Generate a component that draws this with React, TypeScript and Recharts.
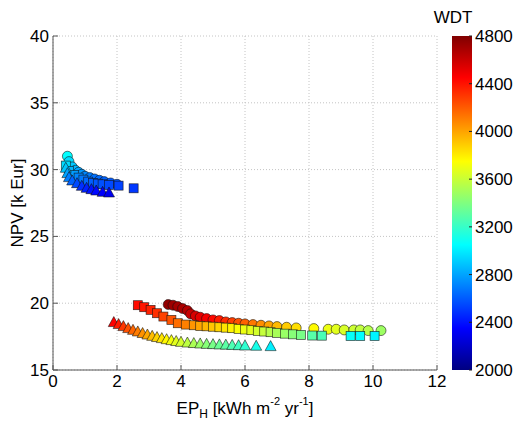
import React from 'react';
import { Bar, CartesianGrid, ComposedChart, Scatter, ScatterChart, XAxis, YAxis } from 'recharts';

// each row: [EP_H, NPV, WDT]
const circlesHigh: number[][] = [
  [0.45, 31.0, 3050], [0.5, 30.6, 2950], [0.6, 30.2, 2900], [0.7, 29.95, 2850], [0.8, 29.8, 2800],
  [0.9, 29.65, 2760], [1.0, 29.5, 2720], [1.15, 29.4, 2690], [1.3, 29.3, 2660], [1.45, 29.2, 2640],
  [1.6, 29.1, 2620], [1.8, 29.0, 2600], [2.0, 28.9, 2580],
];
const circlesLow: number[][] = [
  [3.6, 19.9, 4750], [3.75, 19.85, 4720], [3.9, 19.75, 4700], [4.05, 19.6, 4680], [4.2, 19.45, 4650],
  [4.3, 19.2, 4600], [4.45, 19.05, 4560], [4.6, 18.95, 4520], [4.8, 18.85, 4480], [5.0, 18.75, 4430],
  [5.2, 18.7, 4380], [5.4, 18.6, 4330], [5.6, 18.55, 4280], [5.8, 18.5, 4230], [6.0, 18.45, 4180],
  [6.25, 18.4, 4120], [6.5, 18.35, 4060], [6.75, 18.3, 4000], [7.0, 18.25, 3940], [7.3, 18.2, 3890],
  [7.6, 18.15, 3840], [8.15, 18.1, 3760], [8.6, 18.05, 3700], [8.85, 18.05, 3670], [9.1, 18.0, 3640],
  [9.4, 18.0, 3610], [9.6, 18.0, 3580], [9.85, 17.95, 3550], [10.25, 17.95, 3480],
];
const squaresHigh: number[][] = [
  [0.4, 30.3, 2950], [0.5, 29.9, 2850], [0.65, 29.6, 2780], [0.8, 29.4, 2720], [0.95, 29.25, 2680],
  [1.1, 29.1, 2640], [1.25, 29.0, 2610], [1.4, 28.95, 2590], [1.55, 28.9, 2570], [1.75, 28.85, 2550],
  [2.05, 28.8, 2530], [2.52, 28.6, 2500],
];
const squaresLow: number[][] = [
  [2.65, 19.85, 4420], [2.85, 19.7, 4390], [3.05, 19.5, 4360], [3.25, 19.25, 4320], [3.45, 19.0, 4270],
  [3.7, 18.75, 4220], [3.9, 18.5, 4150], [4.15, 18.4, 4100], [4.4, 18.35, 4040], [4.6, 18.3, 4000],
  [4.8, 18.27, 3950], [5.0, 18.24, 3910], [5.2, 18.2, 3870], [5.4, 18.17, 3820], [5.6, 18.13, 3780],
  [5.8, 18.08, 3740], [6.0, 18.03, 3700], [6.2, 17.98, 3670], [6.4, 17.93, 3630], [6.6, 17.88, 3590],
  [6.8, 17.83, 3550], [7.0, 17.78, 3510], [7.25, 17.72, 3470], [7.5, 17.67, 3420], [7.75, 17.63, 3380],
  [8.1, 17.58, 3290], [8.4, 17.57, 3250], [9.3, 17.55, 3070], [9.6, 17.55, 3050], [10.05, 17.55, 3020],
];
const trianglesHigh: number[][] = [
  [0.4, 30.1, 2900], [0.45, 29.7, 2800], [0.5, 29.4, 2700], [0.6, 29.15, 2620], [0.75, 28.95, 2550],
  [0.9, 28.75, 2480], [1.05, 28.6, 2440], [1.2, 28.5, 2400], [1.35, 28.4, 2370], [1.55, 28.3, 2340],
  [1.75, 28.25, 2310],
];
const trianglesLow: number[][] = [
  [1.9, 18.55, 4450], [2.05, 18.4, 4380], [2.2, 18.25, 4300], [2.35, 18.1, 4230], [2.5, 17.97, 4170],
  [2.65, 17.85, 4110], [2.8, 17.73, 4050], [2.95, 17.62, 3990], [3.1, 17.52, 3930], [3.25, 17.43, 3870],
  [3.4, 17.35, 3820], [3.55, 17.27, 3770], [3.7, 17.2, 3720], [3.85, 17.13, 3670], [4.0, 17.07, 3630],
  [4.2, 17.02, 3570], [4.4, 16.98, 3520], [4.6, 16.95, 3470], [4.8, 16.92, 3420], [5.0, 16.9, 3380],
  [5.2, 16.88, 3340], [5.4, 16.86, 3300], [5.6, 16.84, 3260], [5.8, 16.82, 3220], [6.0, 16.8, 3180],
  [6.35, 16.78, 3110], [6.8, 16.75, 3010],
];

const xTicks = [0, 2, 4, 6, 8, 10, 12];
const yTicks = [15, 20, 25, 30, 35, 40];
const wdtTicks = [2000, 2400, 2800, 3200, 3600, 4000, 4400, 4800];
const wdtMin = 2000;
const wdtMax = 4800;

const font = '"Liberation Sans", Arial, sans-serif';
const axisColor = '#555';

// matlab jet colormap
function jetAt(t: number) {
  const c = (v: number) => Math.round(255 * Math.max(0, Math.min(1, v)));
  const r = c(Math.min(4 * t - 1.5, -4 * t + 4.5));
  const g = c(Math.min(4 * t - 0.5, -4 * t + 3.5));
  const b = c(Math.min(4 * t + 0.5, -4 * t + 2.5));
  return `rgb(${r},${g},${b})`;
}
const wdtColor = (w: number) => jetAt((w - wdtMin) / (wdtMax - wdtMin));

const toPoints = (rows: number[][]) => rows.map(([ep, npv, wdt]) => ({ ep, npv, wdt }));
const circles = toPoints([...circlesHigh, ...circlesLow]);
const squares = toPoints([...squaresHigh, ...squaresLow]);
const triangles = toPoints([...trianglesHigh, ...trianglesLow]);

const edge = { stroke: '#111', strokeWidth: 0.7, strokeOpacity: 0.8 };

const CircleMark = (p: any) => <circle cx={p.cx} cy={p.cy} r={5} fill={wdtColor(p.payload.wdt)} {...edge} />;
const SquareMark = (p: any) => (
  <rect x={p.cx - 4.5} y={p.cy - 4.5} width={9} height={9} fill={wdtColor(p.payload.wdt)} {...edge} />
);
const TriangleMark = (p: any) => (
  <polygon
    points={`${p.cx},${p.cy - 6} ${p.cx + 5.5},${p.cy + 4} ${p.cx - 5.5},${p.cy + 4}`}
    fill={wdtColor(p.payload.wdt)}
    {...edge}
  />
);

function XTitle({ viewBox }: any) {
  const x = viewBox.x + viewBox.width / 2;
  const y = viewBox.y + 44;
  return (
    <text x={x} y={y} textAnchor="middle" fontSize={17} fill="#000" fontFamily={font}>
      EP<tspan fontSize={12} dy={3.5}>H</tspan>
      <tspan dy={-3.5}> [kWh m</tspan>
      <tspan fontSize={11} dy={-9}>-2</tspan>
      <tspan dy={9}> yr</tspan>
      <tspan fontSize={11} dy={-9}>-1</tspan>
      <tspan dy={9}>]</tspan>
    </text>
  );
}

function YTitle({ viewBox }: any) {
  const x = viewBox.x + 17;
  const y = viewBox.y + viewBox.height / 2;
  return (
    <text x={x} y={y} transform={`rotate(-90 ${x} ${y})`} textAnchor="middle" dominantBaseline="central"
      fontSize={17} fill="#000" fontFamily={font}>
      NPV [k Eur]
    </text>
  );
}

function BarTitle({ viewBox }: any) {
  return (
    <text x={viewBox.x - 19} y={viewBox.y - 13} textAnchor="middle" fontSize={17} fill="#000" fontFamily={font}>
      WDT
    </text>
  );
}

const tickStyle = { fontSize: 17, fill: '#000', fontFamily: font };
const gradStops = [0, 0.125, 0.375, 0.625, 0.875, 1];

export default function App() {
  return (
    <div style={{ position: 'fixed', left: 0, top: 0, width: 517, height: 421, background: '#fff', fontFamily: font }}>
      <div style={{ position: 'absolute', left: 0, top: 0 }}>
        <ScatterChart width={450} height={421} margin={{ top: 36, right: 13, left: 0, bottom: 0 }}>
          <CartesianGrid stroke="#c4c4c4" strokeDasharray="1 2" />
          <XAxis type="number" dataKey="ep" domain={[0, 12]} ticks={xTicks} interval={0} height={51}
            stroke={axisColor} tickSize={-5} tickMargin={10} tick={tickStyle} label={<XTitle />} />
          <YAxis type="number" dataKey="npv" domain={[15, 40]} ticks={yTicks} interval={0} width={53}
            stroke={axisColor} tickSize={-5} tickMargin={9} tick={tickStyle} label={<YTitle />} />
          <XAxis xAxisId="top" orientation="top" type="number" domain={[0, 12]} ticks={xTicks} interval={0}
            height={0} stroke={axisColor} tickSize={-5} tick={false} />
          <YAxis yAxisId="right" orientation="right" type="number" domain={[15, 40]} ticks={yTicks} interval={0}
            width={0} stroke={axisColor} tickSize={-5} tick={false} />
          <Scatter data={circles} shape={CircleMark} isAnimationActive={false} />
          <Scatter data={squares} shape={SquareMark} isAnimationActive={false} />
          <Scatter data={triangles} shape={TriangleMark} isAnimationActive={false} />
        </ScatterChart>
      </div>
      <div style={{ position: 'absolute', left: 420, top: 0 }}>
        <ComposedChart width={97} height={421} data={[{ name: 'WDT', range: [wdtMin, wdtMax] }]}
          margin={{ top: 36, right: 0, left: 32, bottom: 51 }} barCategoryGap={0}>
          <defs>
            <linearGradient id="jetGrad" x1="0" y1="1" x2="0" y2="0">
              {gradStops.map((t) => (
                <stop key={t} offset={t} stopColor={jetAt(t)} />
              ))}
            </linearGradient>
          </defs>
          <XAxis dataKey="name" hide />
          <YAxis orientation="right" type="number" domain={[wdtMin, wdtMax]} ticks={wdtTicks} interval={0}
            width={45} axisLine={false} stroke="#222" tickSize={-3} tickMargin={6} tick={tickStyle}
            label={<BarTitle />} />
          <Bar dataKey="range" fill="url(#jetGrad)" isAnimationActive={false} />
        </ComposedChart>
      </div>
    </div>
  );
}
